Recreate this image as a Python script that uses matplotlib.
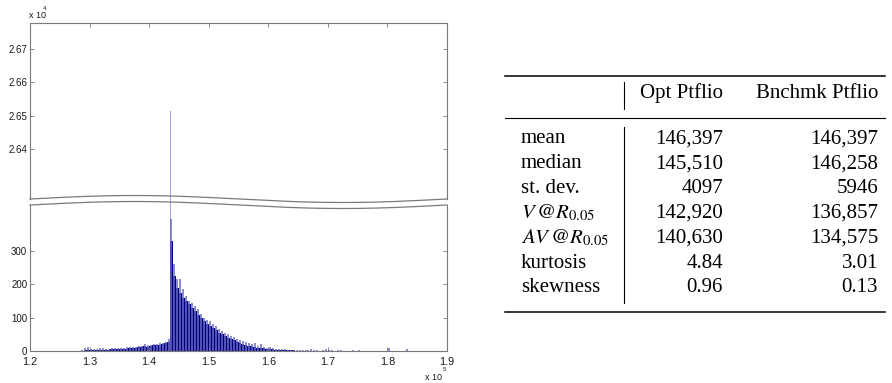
import matplotlib
matplotlib.use('Agg')
import matplotlib.pyplot as plt
import numpy as np
from matplotlib.lines import Line2D

plt.rcParams['font.family'] = ['Liberation Sans', 'DejaVu Sans']
plt.rcParams['mathtext.fontset'] = 'stix'

# histogram data (bins of width 500, starting at 128000)
bin_start = 128000
bin_width = 500
body = [0, 1, 3, 4, 2, 3, 2, 4, 3, 4, 3, 5, 5, 5, 6, 6, 7, 8, 8, 10,
        11, 12, 14, 13, 15, 17, 17, 19, 21, 23, 28, 330, 225, 190, 175, 160, 150, 140, 130, 120,
        108, 98, 90, 82, 76, 68, 62, 55, 50, 45, 40, 36, 32, 28, 25, 22, 19, 16, 14, 12,
        10, 9, 8, 7, 6, 5, 4, 3, 3, 2, 2, 2, 2, 1, 1, 1, 1, 1, 1, 1,
        0, 0, 0, 0, 0, 0, 0, 0, 0, 0, 0, 0, 0, 0, 0, 0, 0, 0, 0, 0,
        0, 0, 0, 0, 0, 0, 0, 0, 0, 0, 0, 0]
peak = [0, 2, 8, 12, 5, 6, 5, 9, 10, 7, 6, 8, 9, 10, 9, 8, 11, 12, 11, 13,
        16, 15, 22, 17, 19, 22, 21, 24, 25, 28, 35, 395, 260, 215, 217, 185, 165, 150, 145, 135,
        125, 112, 100, 92, 90, 82, 75, 66, 60, 55, 50, 45, 42, 35, 33, 30, 28, 24, 20, 25,
        15, 20, 12, 10, 12, 8, 7, 6, 5, 6, 4, 4, 3, 3, 3, 2, 3, 2, 5, 4,
        2, 1, 2, 5, 2, 3, 1, 4, 2, 1, 1, 1, 3, 1, 2, 1, 1, 1, 1, 1,
        1, 1, 1, 1, 10, 1, 1, 1, 1, 1, 5, 0]
spike_x = 143500
spike_count = 26514

xticks = [120000, 130000, 140000, 150000, 160000, 170000, 180000, 190000]
xticklabels = ['1.2', '1.3', '1.4', '1.5', '1.6', '1.7', '1.8', '1.9']
top_yticks = [26400, 26500, 26600, 26700]
top_yticklabels = ['2.64', '2.65', '2.66', '2.67']
bot_yticks = [0, 100, 200, 300]

# table data
row_labels = ['mean', 'median', 'st. dev.', r'$V\,@R_{0.05}$', r'$AV\,@R_{0.05}$', 'kurtosis', 'skewness']
col_labels = ['Opt Ptflio', 'Bnchmk Ptflio']
opt_vals = ['146,397', '145,510', '4097', '142,920', '140,630', '4.84', '0.96']
bench_vals = ['146,397', '146,258', '5946', '136,857', '134,575', '3.01', '0.13']

W, H = 892, 383
fig = plt.figure(figsize=(W / 100, H / 100), dpi=100)

def fx(px):
    return px / W

def fy(py):
    return 1 - py / H

edges = bin_start + bin_width * np.arange(len(body) + 1)
navy = '#00007f'
light = '#6a6ac4'
spike_c = '#a4a6de'
grey = '#7a7a7a'
txt = '#1a1a1a'

x0, x1 = 30, 447
# top axes: 23 -> 205 px, side spines cut at 199 px
ax_t = fig.add_axes([fx(x0), fy(205), fx(x1 - x0), (205 - 23) / H])
ax_b = fig.add_axes([fx(x0), fy(351), fx(x1 - x0), (351 - 205) / H])

for ax in (ax_t, ax_b):
    ax.vlines(edges[:-1] + bin_width / 2, 0, peak, color=light, lw=1.1)
    ax.bar([spike_x], [spike_count], width=130, align='edge', color=spike_c, linewidth=0)
    ax.stairs(body, edges, fill=True, color=navy, linewidth=0)
    ax.set_xlim(120000, 190000)
    ax.set_xticks(xticks)
    for s in ax.spines.values():
        s.set_color(grey)
        s.set_linewidth(0.8)
    ax.tick_params(direction='in', length=3, width=0.6, color=grey, labelsize=7,
                   labelcolor=txt, pad=2)

px_per = 33.47 / 100  # px per count (top axes)
top_lo = 26400 - (205 - 149.3) / px_per
top_hi = 26400 + (149.3 - 23) / px_per
ax_t.set_ylim(top_lo, top_hi)
cut = 26400 - (199 - 149.3) / px_per
ax_t.spines['bottom'].set_visible(False)
ax_t.spines['left'].set_bounds(cut, top_hi)
ax_t.spines['right'].set_bounds(cut, top_hi)
ax_t.set_yticks(top_yticks)
ax_t.set_yticklabels(top_yticklabels)
ax_t.tick_params(axis='x', bottom=False, labelbottom=False, top=True)
ax_t.tick_params(axis='y', right=True)

ax_b.set_ylim(0, 438)
ax_b.spines['top'].set_visible(False)
ax_b.set_yticks(bot_yticks)
ax_b.set_xticklabels(xticklabels)
ax_b.tick_params(axis='y', right=True)
ax_b.tick_params(axis='x', labelsize=7.8, pad=4)

# wavy break lines
t = np.linspace(0, 1, 200)
xs = fx(x0 + t * (x1 - x0))
wave = 3.5 * np.sin(2 * np.pi * t)
fig.add_artist(Line2D(xs, fy(199 - wave), color=grey, lw=0.9))
fig.add_artist(Line2D(xs, fy(205 - wave), color=grey, lw=0.9))

# exponent labels
fig.text(fx(29), fy(18.5), 'x 10', fontsize=6.5, color=txt, ha='left', va='baseline')
fig.text(fx(43), fy(10), '4', fontsize=4.5, color=txt, ha='left', va='baseline')
fig.text(fx(425), fy(379.5), 'x 10', fontsize=6.5, color=txt, ha='left', va='baseline')
fig.text(fx(443), fy(371), '5', fontsize=4.5, color=txt, ha='left', va='baseline')

# table
serif = ['Liberation Serif', 'DejaVu Serif']
fs = 15
fig.add_artist(Line2D([fx(505), fx(885)], [fy(76), fy(76)], color='black', lw=1.1))
fig.add_artist(Line2D([fx(505), fx(885)], [fy(118), fy(118)], color='black', lw=0.8))
fig.add_artist(Line2D([fx(505), fx(885)], [fy(312), fy(312)], color='black', lw=1.1))
fig.add_artist(Line2D([fx(624), fx(624)], [fy(82), fy(109)], color='black', lw=0.8))
fig.add_artist(Line2D([fx(624), fx(624)], [fy(127), fy(303)], color='black', lw=0.8))

fig.text(fx(723), fy(93), col_labels[0], family=serif, fontsize=fs, ha='right', va='center')
fig.text(fx(878), fy(93), col_labels[1], family=serif, fontsize=fs, ha='right', va='center')
for i, lab in enumerate(row_labels):
    yc = fy(139 + i * 24.8)
    fig.text(fx(521), yc, lab, family=serif, fontsize=fs, ha='left', va='center')
    fig.text(fx(723), yc, opt_vals[i], family=serif, fontsize=fs, ha='right', va='center')
    fig.text(fx(878), yc, bench_vals[i], family=serif, fontsize=fs, ha='right', va='center')

fig.savefig('out.png', dpi=100)
